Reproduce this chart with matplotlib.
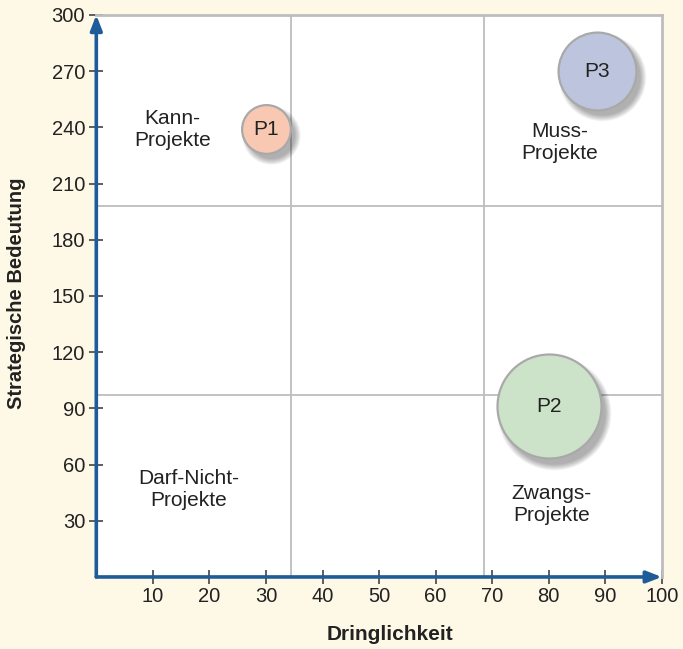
import numpy as np
import matplotlib
matplotlib.use("Agg")
import matplotlib.pyplot as plt
import matplotlib.transforms as mtransforms

plt.rcParams['font.family'] = ['Liberation Sans', 'DejaVu Sans']

# Projekte im Portfolio
projekte = ["P1", "P2", "P3"]
dringlichkeit = [30, 80, 88.5]
bedeutung = [239, 91, 270]
volumen = [2.2, 10, 5.6]
farben = ["#F9C8B2", "#CDE3C9", "#BCC5DD"]

# Quadranten-Beschriftungen
quadranten = ["Kann-\nProjekte", "Muss-\nProjekte", "Darf-Nicht-\nProjekte", "Zwangs-\nProjekte"]
quad_x = [13.5, 82, 16.4, 80.5]
quad_y = [239, 232, 46.5, 38.5]

# Grenzen der Quadranten
grenzen_x = [34.5, 68.5]
grenzen_y = [198, 97]

x_ticks = [10, 20, 30, 40, 50, 60, 70, 80, 90, 100]
y_ticks = [30, 60, 90, 120, 150, 180, 210, 240, 270, 300]

BG = "#FEF8E7"
BLAU = "#1E5C99"
GRAU = "#BDBDBD"
TEXT = "#222222"

fig = plt.figure(figsize=(6.83, 6.49), dpi=100, facecolor=BG)
ax = fig.add_axes([0.141, 0.111, 0.828, 0.866])
ax.set_facecolor("white")
ax.set_xlim(0, 100)
ax.set_ylim(0, 300)

for gx in grenzen_x:
    ax.axvline(gx, color=GRAU, lw=1.3, zorder=1)
for gy in grenzen_y:
    ax.axhline(gy, color=GRAU, lw=1.3, zorder=1)

for side in ["top", "right"]:
    ax.spines[side].set_color(GRAU)
    ax.spines[side].set_linewidth(2)
for side in ["left", "bottom"]:
    ax.spines[side].set_visible(False)

# Achsenpfeile
ax.annotate("", xy=(0, 1.0), xytext=(0, 0), xycoords="axes fraction",
            arrowprops=dict(arrowstyle="-|>,head_length=0.9,head_width=0.35",
                            color=BLAU, lw=2.6, shrinkA=0, shrinkB=0),
            annotation_clip=False, zorder=6)
ax.annotate("", xy=(1.0, 0), xytext=(0, 0), xycoords="axes fraction",
            arrowprops=dict(arrowstyle="-|>,head_length=0.9,head_width=0.35",
                            color=BLAU, lw=2.6, shrinkA=0, shrinkB=0),
            annotation_clip=False, zorder=6)

ax.set_xticks(x_ticks)
ax.set_yticks(y_ticks)
ax.tick_params(direction="inout", length=10, width=1.1, color="#333333",
               labelsize=14.5, labelcolor=TEXT, pad=3)
ax.tick_params(axis="x", pad=2)

ax.set_xlabel("Dringlichkeit", fontsize=15, fontweight="bold", color=TEXT)
ax.xaxis.set_label_coords(0.52, -0.085)
ax.set_ylabel("Strategische Bedeutung", fontsize=14.5, fontweight="bold", color=TEXT)
ax.yaxis.set_label_coords(-0.124, 0.505)

# Blasen mit weichem Schatten
dpi = fig.dpi
for x, y, v, c, name in zip(dringlichkeit, bedeutung, volumen, farben, projekte):
    r_px = 52 * np.sqrt(v / 10)
    r_pt = r_px * 72 / dpi
    shadow_tr = mtransforms.offset_copy(ax.transData, fig=fig, x=3.5, y=-4.5, units="points")
    for k in range(8):
        rr = r_pt + 3.5 - k * 0.6
        ax.scatter([x], [y], s=(2 * rr) ** 2, color="#000000", alpha=0.045,
                   linewidths=0, transform=shadow_tr, zorder=3, clip_on=False)
    ax.scatter([x], [y], s=(2 * r_pt) ** 2, color=c, edgecolors="#A9A9A9",
               linewidths=1.6, zorder=4, clip_on=False)
    ax.text(x, y, name, ha="center", va="center", fontsize=15, color=TEXT, zorder=5)

for t, qx, qy in zip(quadranten, quad_x, quad_y):
    ax.text(qx, qy, t, ha="center", va="center", fontsize=15, color=TEXT,
            linespacing=1.2, zorder=2)

fig.savefig("out.png", dpi=100, facecolor=BG)
